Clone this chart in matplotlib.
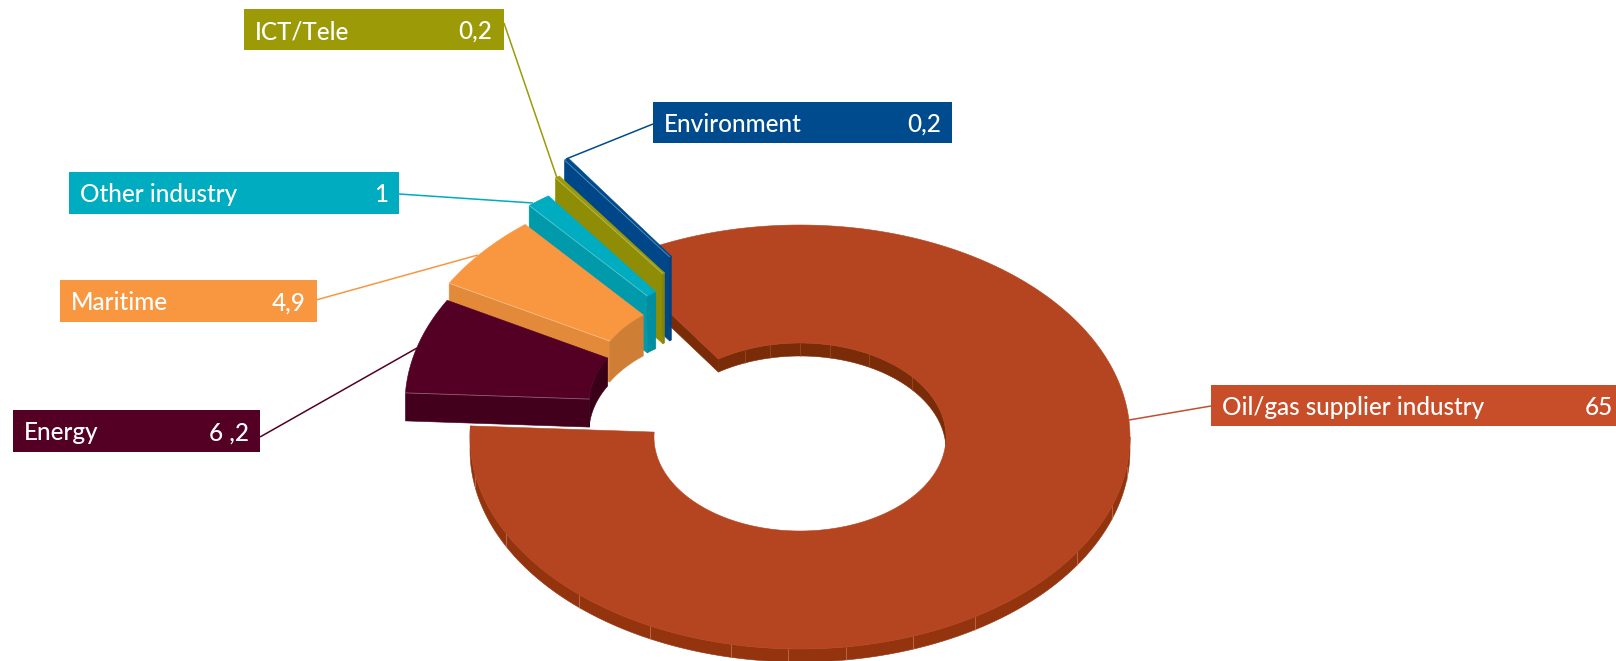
import numpy as np
import matplotlib
matplotlib.use("Agg")
import matplotlib.pyplot as plt
from matplotlib.patches import Polygon, Rectangle

categories = ["Oil/gas supplier industry", "Energy", "Maritime", "Other industry", "ICT/Tele", "Environment"]
values = [65, 6.2, 4.9, 1, 0.2, 0.2]
value_labels = ["65", "6 ,2", "4,9", "1", "0,2", "0,2"]

# styling / layout (pixels)
CX, CY, RX, RY, IRX, IRY = 800, 437, 330, 212, 146, 94
START, BIG_SWEEP, REST_SWEEP = 177, 307, 53
offsets = [(0, 0), (-65, -33), (-63, -50), (-59, -69), (-52, -87), (-47, -103)]
depths = [13, 28, 41, 57, 70, 84]
tops = ["#B54521", "#540025", "#F99740", "#00ACBF", "#9C9A07", "#004B8D"]
walls = ["#7A2B08", "#43001C", "#E2893A", "#009AAB", "#8F8D06", "#00478A"]
inners = ["#7A2B08", "#3A0018", "#CF7F35", "#008EA0", "#85830A", "#004080"]
boxcols = ["#C84E29", "#540025", "#F99740", "#00ACBF", "#9C9A07", "#004B8D"]
linecols = ["#C0502E", "#540025", "#F99740", "#00ACBF", "#9C9A07", "#004B8D"]
boxes = [(1211, 385, 1616, 426), (13, 410, 260, 452), (60, 280, 317, 322),
         (69, 172, 399, 214), (244, 9, 504, 50), (653, 102, 952, 143)]
value_right = [1613, 249, 306, 388, 492, 941]
tips = [((1211, 406), (1129, 420)), ((260, 437), (417, 348)), ((316, 300), (478, 255)),
        ((399, 194), (533, 203)), ((504, 23), (557, 178)), ((653, 124), (566, 159))]

plt.rcParams["font.family"] = ["Lato", "DejaVu Sans"]
fig = plt.figure(figsize=(16.16, 6.61), dpi=100)
ax = fig.add_axes([0, 0, 1, 1])
ax.set_xlim(0, 1616)
ax.set_ylim(661, 0)
ax.axis("off")


def arc(t0, t1, rx, ry, off=(0, 0), dz=0, n=None):
    n = n or max(int(abs(t1 - t0)) * 2, 6)
    t = np.radians(np.linspace(t0, t1, n))
    return np.column_stack([CX + rx * np.cos(t) + off[0], CY - ry * np.sin(t) + off[1] + dz])


def poly(pts, color, z, lw=0.4, ec=None):
    ax.add_patch(Polygon(pts, closed=True, fc=color, ec=ec or color, lw=lw, zorder=z, joinstyle="round"))


# angular spans from the values
spans = [BIG_SWEEP]
rest = sum(values[1:])
spans += [v / rest * REST_SWEEP for v in values[1:]]

# Oil slice: t from START to START+sweep
t0, t1 = START, START + spans[0]
d, top, wall, inner = depths[0], tops[0], walls[0], inners[0]
poly(np.vstack([arc(START, 360, RX, RY), arc(360, START, RX, RY, dz=d)]), "#93340F", 1)
poly(np.vstack([arc(360, 360 + 124, IRX, IRY), arc(360 + 124, 360, IRX, IRY, dz=d)]), wall, 1)
poly(np.vstack([arc(t1, t1, RX, RY, n=2), arc(t1, t1, IRX, IRY, n=2),
                arc(t1, t1, IRX, IRY, dz=d, n=2), arc(t1, t1, RX, RY, dz=d, n=2)]), wall, 1)
poly(np.vstack([arc(t0, t1, RX, RY), arc(t1, t0, IRX, IRY)]), top, 2)

# seams on the oil wall
for s in [190, 207, 228, 243, 258, 268, 278, 290, 302, 327, 341, 352]:
    p = arc(s, s, RX, RY, n=1)[0]
    ax.plot([p[0], p[0]], [p[1], p[1] + d], color="#D98A6A", lw=0.4, zorder=1.5)
for s in [40, 62, 78, 90, 102, 112]:
    p = arc(s, s, IRX, IRY, n=1)[0]
    ax.plot([p[0], p[0]], [p[1], p[1] + d], color="#A8552F", lw=0.4, zorder=1.5)

# Exploded slices, drawn from the back (top of chart) to the front
angles = np.cumsum([0] + spans[:0:-1])  # env, ict, other, maritime, energy
order = [5, 4, 3, 2, 1]
base = START + spans[0] - 360
z = 3
for k, i in enumerate(order):
    a0, a1 = base + angles[k], base + angles[k + 1]
    off, d = offsets[i], depths[i]
    # radial wall on the high-angle edge
    poly(np.vstack([arc(a1, a1, RX, RY, off, n=2), arc(a1, a1, IRX, IRY, off, n=2),
                    arc(a1, a1, IRX, IRY, off, d, n=2), arc(a1, a1, RX, RY, off, d, n=2)]),
         walls[i], z)
    # inner arc wall
    poly(np.vstack([arc(a0, a1, IRX, IRY, off), arc(a1, a0, IRX, IRY, off, d)]), inners[i], z + 0.1)
    # top face
    poly(np.vstack([arc(a0, a1, RX, RY, off), arc(a1, a0, IRX, IRY, off)]), tops[i], z + 0.2)
    # light seam on the front edge of the top face
    e = np.vstack([arc(a1, a1, RX, RY, off, n=2), arc(a1, a1, IRX, IRY, off, n=2)])
    ax.plot(e[:, 0], e[:, 1], color="white", alpha=0.35, lw=0.6, zorder=z + 0.3)
    z += 1

# Labels
for i, name in enumerate(categories):
    x0, y0, x1, y1 = boxes[i]
    (lx0, ly0), (lx1, ly1) = tips[i]
    ax.plot([lx0, lx1], [ly0, ly1], color=linecols[i], lw=1.1, zorder=9, solid_capstyle="butt")
    ax.add_patch(Rectangle((x0, y0), x1 - x0, y1 - y0, fc=boxcols[i], ec="none", zorder=10))
    ym = (y0 + y1) / 2 + 2
    ax.text(x0 + 11, ym, name, color="white", fontsize=17.5, weight="medium", va="center", ha="left", zorder=11)
    ax.text(value_right[i], ym, value_labels[i], color="white", fontsize=17.5, weight="medium",
            va="center", ha="right", zorder=11)

fig.savefig("out.png", dpi=100, facecolor="white")
